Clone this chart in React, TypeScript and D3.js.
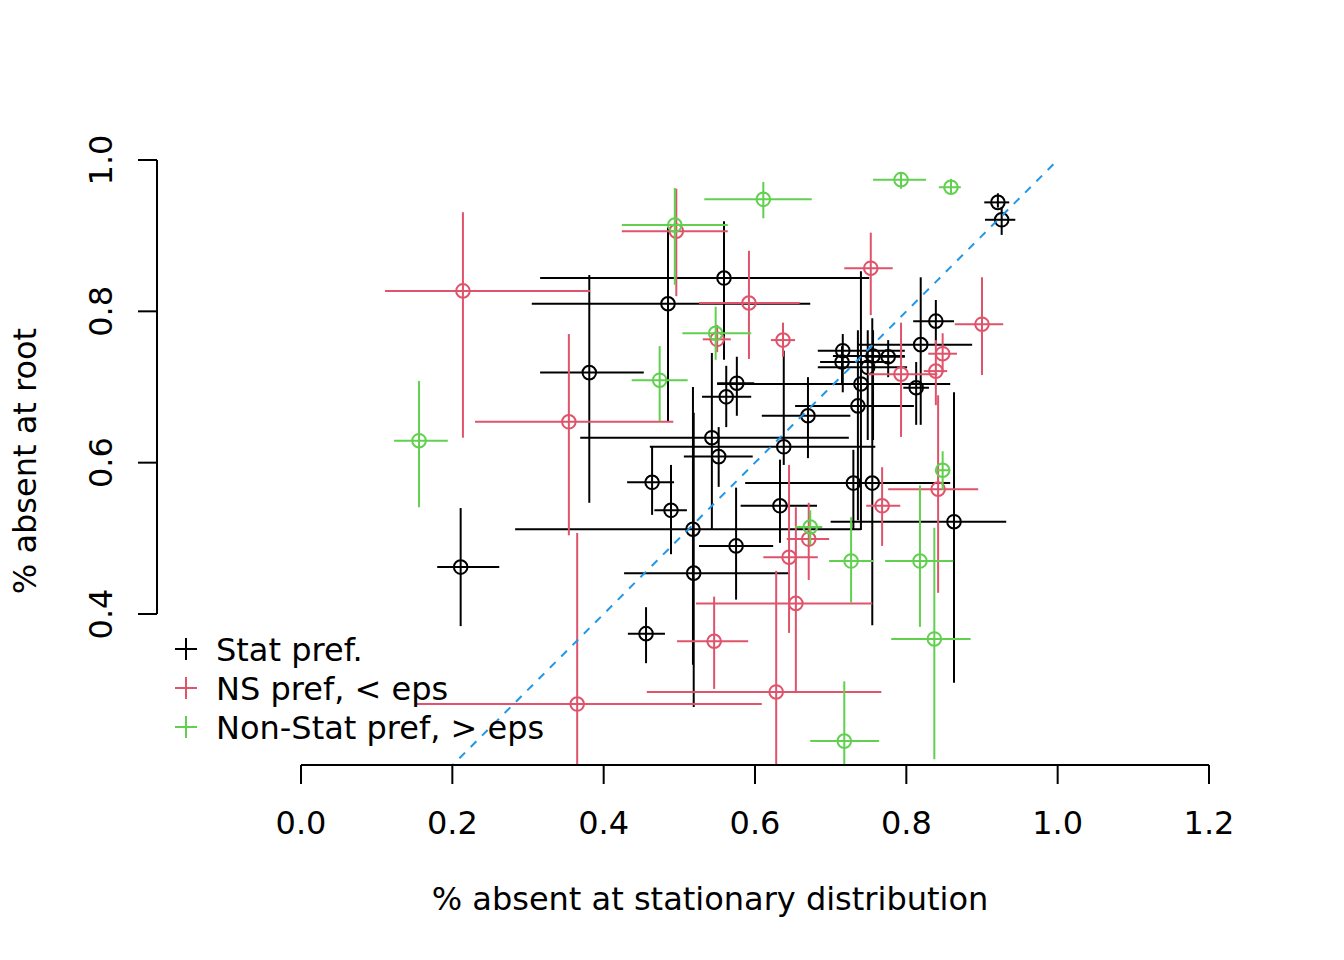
import * as d3 from "d3";

// each row: [x, y, xlo, xhi, ylo, yhi]
const statPref: number[][] = [
  [0.559, 0.844, 0.316, 0.751, 0.736, 0.919],
  [0.485, 0.810, 0.305, 0.673, 0.654, 0.911],
  [0.381, 0.719, 0.316, 0.453, 0.547, 0.848],
  [0.211, 0.462, 0.180, 0.262, 0.384, 0.540],
  [0.456, 0.374, 0.432, 0.481, 0.335, 0.409],
  [0.576, 0.705, 0.550, 0.599, 0.662, 0.740],
  [0.562, 0.687, 0.530, 0.595, 0.647, 0.728],
  [0.670, 0.662, 0.609, 0.726, 0.606, 0.713],
  [0.543, 0.633, 0.369, 0.724, 0.511, 0.745],
  [0.638, 0.621, 0.461, 0.759, 0.597, 0.748],
  [0.552, 0.608, 0.506, 0.597, 0.568, 0.647],
  [0.464, 0.574, 0.431, 0.493, 0.531, 0.621],
  [0.489, 0.537, 0.467, 0.510, 0.479, 0.597],
  [0.518, 0.512, 0.283, 0.740, 0.333, 0.700],
  [0.633, 0.543, 0.581, 0.682, 0.494, 0.604],
  [0.575, 0.490, 0.526, 0.624, 0.419, 0.567],
  [0.519, 0.454, 0.427, 0.645, 0.277, 0.666],
  [0.716, 0.748, 0.683, 0.798, 0.693, 0.770],
  [0.715, 0.733, 0.686, 0.778, 0.703, 0.754],
  [0.756, 0.741, 0.703, 0.798, 0.630, 0.775],
  [0.776, 0.740, 0.745, 0.798, 0.713, 0.762],
  [0.749, 0.726, 0.683, 0.801, 0.630, 0.775],
  [0.740, 0.704, 0.550, 0.858, 0.511, 0.853],
  [0.819, 0.756, 0.735, 0.887, 0.650, 0.845],
  [0.839, 0.787, 0.809, 0.863, 0.756, 0.815],
  [0.813, 0.699, 0.796, 0.830, 0.650, 0.733],
  [0.736, 0.675, 0.653, 0.810, 0.524, 0.775],
  [0.730, 0.573, 0.587, 0.763, 0.511, 0.617],
  [0.755, 0.573, 0.702, 0.858, 0.385, 0.791],
  [0.863, 0.522, 0.700, 0.932, 0.309, 0.693],
  [0.921, 0.944, 0.903, 0.936, 0.937, 0.956],
  [0.926, 0.921, 0.904, 0.944, 0.901, 0.938],
];

const nsPref: number[][] = [
  [0.214, 0.827, 0.111, 0.382, 0.633, 0.931],
  [0.354, 0.654, 0.230, 0.492, 0.504, 0.770],
  [0.365, 0.281, 0.153, 0.609, 0.150, 0.507],
  [0.496, 0.906, 0.424, 0.564, 0.820, 0.962],
  [0.592, 0.811, 0.526, 0.659, 0.737, 0.880],
  [0.550, 0.763, 0.531, 0.568, 0.746, 0.782],
  [0.637, 0.762, 0.621, 0.653, 0.740, 0.785],
  [0.753, 0.857, 0.718, 0.782, 0.795, 0.904],
  [0.900, 0.783, 0.864, 0.928, 0.716, 0.845],
  [0.848, 0.744, 0.829, 0.867, 0.719, 0.771],
  [0.839, 0.721, 0.823, 0.854, 0.676, 0.762],
  [0.793, 0.717, 0.749, 0.841, 0.634, 0.785],
  [0.842, 0.565, 0.776, 0.895, 0.428, 0.689],
  [0.768, 0.543, 0.747, 0.792, 0.490, 0.594],
  [0.645, 0.475, 0.611, 0.683, 0.375, 0.597],
  [0.671, 0.499, 0.642, 0.698, 0.445, 0.547],
  [0.654, 0.414, 0.522, 0.755, 0.297, 0.541],
  [0.546, 0.364, 0.497, 0.591, 0.301, 0.423],
  [0.628, 0.297, 0.457, 0.767, 0.150, 0.457],
];

const nonStatPref: number[][] = [
  [0.494, 0.914, 0.424, 0.564, 0.835, 0.963],
  [0.611, 0.948, 0.533, 0.675, 0.923, 0.971],
  [0.548, 0.771, 0.504, 0.595, 0.736, 0.806],
  [0.474, 0.709, 0.437, 0.511, 0.655, 0.754],
  [0.156, 0.629, 0.123, 0.194, 0.541, 0.708],
  [0.848, 0.590, 0.841, 0.858, 0.564, 0.615],
  [0.673, 0.515, 0.653, 0.689, 0.491, 0.537],
  [0.727, 0.470, 0.698, 0.756, 0.415, 0.528],
  [0.818, 0.470, 0.772, 0.862, 0.383, 0.570],
  [0.837, 0.367, 0.780, 0.885, 0.208, 0.514],
  [0.718, 0.232, 0.673, 0.764, 0.195, 0.311],
  [0.793, 0.974, 0.756, 0.826, 0.962, 0.984],
  [0.859, 0.964, 0.843, 0.872, 0.955, 0.975],
];

const xTicks = [0, 0.2, 0.4, 0.6, 0.8, 1.0, 1.2];
const yTicks = [0.4, 0.6, 0.8, 1.0];
const legendLabels = ["Stat pref.", "NS pref, < eps", "Non-Stat pref, > eps"];
const groupColors = ["#000000", "#DF536B", "#61D04F"];

export default function App() {
  const W = 1344;
  const H = 960;
  const x = d3.scaleLinear().domain([0, 1.2]).range([301, 1209]);
  const y = d3.scaleLinear().domain([0.4, 1.0]).range([614, 160]);
  const plot = { left: 157, right: 1263, top: 155, bottom: 765 };
  const font = "'DejaVu Sans', sans-serif";
  const groups = [statPref, nsPref, nonStatPref];

  return (
    <svg
      width={W}
      height={H}
      style={{ position: "absolute", left: 0, top: 0, background: "#fff" }}
      fontFamily={font}
    >
      <defs>
        <clipPath id="plotclip">
          <rect
            x={plot.left}
            y={plot.top}
            width={plot.right - plot.left}
            height={plot.bottom - plot.top}
          />
        </clipPath>
      </defs>

      <g clipPath="url(#plotclip)">
        {groups.map((rows, gi) => (
          <g key={gi} stroke={groupColors[gi]} strokeWidth={2} fill="none">
            {rows.map((d, i) => (
              <g key={i}>
                <line x1={x(d[2])} x2={x(d[3])} y1={y(d[1])} y2={y(d[1])} />
                <line x1={x(d[0])} x2={x(d[0])} y1={y(d[4])} y2={y(d[5])} />
                <circle cx={x(d[0])} cy={y(d[1])} r={6.8} />
              </g>
            ))}
          </g>
        ))}
        <line
          x1={x(0)}
          y1={y(0)}
          x2={x(1)}
          y2={y(1)}
          stroke="#2297E6"
          strokeWidth={2}
          strokeDasharray="8,8"
        />
      </g>

      {/* x axis */}
      <g stroke="#000" strokeWidth={2}>
        <line x1={x(0)} x2={x(1.2)} y1={plot.bottom} y2={plot.bottom} />
        {xTicks.map((t) => (
          <line key={t} x1={x(t)} x2={x(t)} y1={plot.bottom} y2={plot.bottom + 19} />
        ))}
      </g>
      {xTicks.map((t) => (
        <text key={t} x={x(t)} y={834} fontSize={32} textAnchor="middle">
          {d3.format(".1f")(t)}
        </text>
      ))}

      {/* y axis */}
      <g stroke="#000" strokeWidth={2}>
        <line x1={plot.left} x2={plot.left} y1={y(0.4)} y2={y(1.0)} />
        {yTicks.map((t) => (
          <line key={t} x1={plot.left} x2={plot.left - 19} y1={y(t)} y2={y(t)} />
        ))}
      </g>
      {yTicks.map((t) => (
        <text
          key={t}
          transform={`translate(112,${y(t)}) rotate(-90)`}
          fontSize={32}
          textAnchor="middle"
        >
          {d3.format(".1f")(t)}
        </text>
      ))}

      <text x={710} y={910} fontSize={32} textAnchor="middle">
        % absent at stationary distribution
      </text>
      <text transform="translate(36,461) rotate(-90)" fontSize={32} textAnchor="middle">
        % absent at root
      </text>

      {/* legend */}
      {legendLabels.map((lab, i) => {
        const cy = 649 + i * 39;
        return (
          <g key={lab}>
            <g stroke={groupColors[i]} strokeWidth={2}>
              <line x1={175} x2={197} y1={cy} y2={cy} />
              <line x1={186} x2={186} y1={cy - 11} y2={cy + 11} />
            </g>
            <text x={216} y={cy + 11.5} fontSize={32}>
              {lab}
            </text>
          </g>
        );
      })}
    </svg>
  );
}
